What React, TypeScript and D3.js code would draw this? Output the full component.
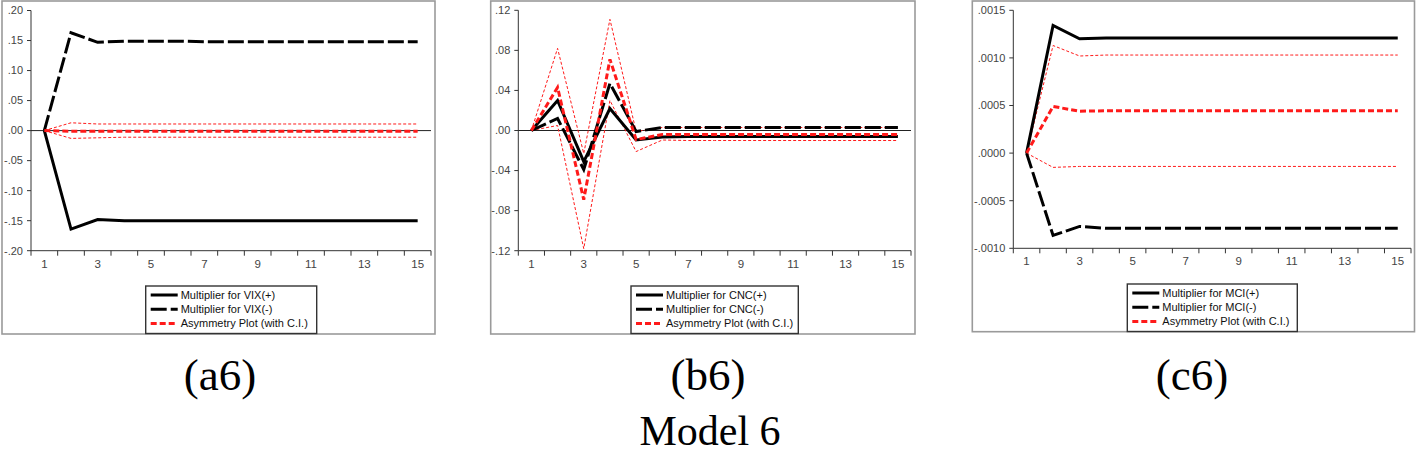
import React from 'react';
import * as d3 from 'd3';

// ---------- data ----------
const periods = [1, 2, 3, 4, 5, 6, 7, 8, 9, 10, 11, 12, 13, 14, 15];
const xTickLabels = [1, 3, 5, 7, 9, 11, 13, 15];

// Panel (a6): VIX
const vixPlus = [0, -0.164, -0.148, -0.150, -0.150, -0.150, -0.150, -0.150, -0.150, -0.150, -0.150, -0.150, -0.150, -0.150, -0.150];
const vixMinus = [0, 0.163, 0.147, 0.149, 0.149, 0.149, 0.148, 0.148, 0.148, 0.148, 0.148, 0.148, 0.148, 0.148, 0.148];
const vixAsym = [0, -0.001, -0.001, -0.001, -0.001, -0.001, -0.001, -0.001, -0.001, -0.001, -0.001, -0.001, -0.001, -0.001, -0.001];
const vixUpper = [0, 0.013, 0.011, 0.011, 0.011, 0.011, 0.011, 0.011, 0.011, 0.011, 0.011, 0.011, 0.011, 0.011, 0.011];
const vixLower = [0, -0.013, -0.012, -0.011, -0.011, -0.011, -0.011, -0.011, -0.011, -0.011, -0.011, -0.011, -0.011, -0.011, -0.011];
const vixYTicks = [0.2, 0.15, 0.1, 0.05, 0, -0.05, -0.1, -0.15, -0.2];
const vixYLabels = ['.20', '.15', '.10', '.05', '.00', '-.05', '-.10', '-.15', '-.20'];
const vixLegend = ['Multiplier for VIX(+)', 'Multiplier for VIX(-)', 'Asymmetry Plot (with C.I.)'];

// Panel (b6): CNC
const cncPlus = [0, 0.030, -0.031, 0.022, -0.0095, -0.0065, -0.006, -0.006, -0.006, -0.006, -0.006, -0.006, -0.006, -0.006, -0.006];
const cncMinus = [0, 0.012, -0.039, 0.047, -0.001, 0.003, 0.003, 0.003, 0.003, 0.003, 0.003, 0.003, 0.003, 0.003, 0.003];
const cncAsym = [0, 0.043, -0.069, 0.071, -0.009, -0.004, -0.004, -0.004, -0.004, -0.004, -0.004, -0.004, -0.004, -0.004, -0.004];
const cncUpper = [0, 0.082, -0.023, 0.111, -0.001, 0.003, 0.003, 0.003, 0.003, 0.003, 0.003, 0.003, 0.003, 0.003, 0.003];
const cncLower = [0, 0.005, -0.118, 0.030, -0.021, -0.0095, -0.010, -0.010, -0.010, -0.010, -0.010, -0.010, -0.010, -0.010, -0.010];
const cncYTicks = [0.12, 0.08, 0.04, 0, -0.04, -0.08, -0.12];
const cncYLabels = ['.12', '.08', '.04', '.00', '-.04', '-.08', '-.12'];
const cncLegend = ['Multiplier for CNC(+)', 'Multiplier for CNC(-)', 'Asymmetry Plot (with C.I.)'];

// Panel (c6): MCI
const mciPlus = [0, 0.00134, 0.00120, 0.00121, 0.00121, 0.00121, 0.00121, 0.00121, 0.00121, 0.00121, 0.00121, 0.00121, 0.00121, 0.00121, 0.00121];
const mciMinus = [0, -0.000865, -0.00077, -0.00079, -0.00079, -0.00079, -0.00079, -0.00079, -0.00079, -0.00079, -0.00079, -0.00079, -0.00079, -0.00079, -0.00079];
const mciAsym = [0, 0.00049, 0.00044, 0.000445, 0.000445, 0.000445, 0.000445, 0.000445, 0.000445, 0.000445, 0.000445, 0.000445, 0.000445, 0.000445, 0.000445];
const mciUpper = [0, 0.00113, 0.00102, 0.00103, 0.00103, 0.00103, 0.00103, 0.00103, 0.00103, 0.00103, 0.00103, 0.00103, 0.00103, 0.00103, 0.00103];
const mciLower = [0, -0.00015, -0.00014, -0.00014, -0.00014, -0.00014, -0.00014, -0.00014, -0.00014, -0.00014, -0.00014, -0.00014, -0.00014, -0.00014, -0.00014];
const mciYTicks = [0.0015, 0.001, 0.0005, 0, -0.0005, -0.001];
const mciYLabels = ['.0015', '.0010', '.0005', '.0000', '-.0005', '-.0010'];
const mciLegend = ['Multiplier for MCI(+)', 'Multiplier for MCI(-)', 'Asymmetry Plot (with C.I.)'];

const captions = ['(a6)', '(b6)', '(c6)'];
const title = 'Model 6';

// ---------- layout ----------
type PanelCfg = {
  frame: [number, number, number, number];
  left: number; right: number; top: number; bottom: number;
  domain: [number, number];
  yTicks: number[]; yLabels: string[];
  plus: number[]; minus: number[]; asym: number[]; upper: number[]; lower: number[];
  legend: string[];
  legendBox: [number, number, number, number];
  zeroLine: boolean;
  caption: string; captionX: number;
};

const panels: PanelCfg[] = [
  {
    frame: [2, 1, 433, 333], left: 31, right: 431, top: 10.5, bottom: 250.7, domain: [-0.2, 0.2],
    yTicks: vixYTicks, yLabels: vixYLabels,
    plus: vixPlus, minus: vixMinus, asym: vixAsym, upper: vixUpper, lower: vixLower,
    legend: vixLegend, legendBox: [145.7, 286, 171, 47.5], zeroLine: true,
    caption: captions[0], captionX: 220,
  },
  {
    frame: [490.7, 1, 424.3, 333], left: 518.3, right: 911, top: 10.3, bottom: 250.7, domain: [-0.12, 0.12],
    yTicks: cncYTicks, yLabels: cncYLabels,
    plus: cncPlus, minus: cncMinus, asym: cncAsym, upper: cncUpper, lower: cncLower,
    legend: cncLegend, legendBox: [631, 286, 167.3, 47.5], zeroLine: true,
    caption: captions[1], captionX: 708,
  },
  {
    frame: [972.3, 1, 442.2, 330.7], left: 1013.3, right: 1411, top: 10.3, bottom: 248.3, domain: [-0.001, 0.0015],
    yTicks: mciYTicks, yLabels: mciYLabels,
    plus: mciPlus, minus: mciMinus, asym: mciAsym, upper: mciUpper, lower: mciLower,
    legend: mciLegend, legendBox: [1127.3, 284, 170, 47.5], zeroLine: false,
    caption: captions[2], captionX: 1192,
  },
];

const SANS = 'Arial, "Liberation Sans", Helvetica, sans-serif';
const SERIF = '"Times New Roman", "Liberation Serif", Times, serif';
const RED = '#ff1a1a';

function Panel({ p }: { p: PanelCfg }) {
  const x = d3.scaleBand<number>().domain(periods).range([p.left, p.right]).paddingInner(0).paddingOuter(0);
  const y = d3.scaleLinear().domain(p.domain).range([p.bottom, p.top]);
  const bw = x.bandwidth();
  const line = (vals: number[]) =>
    d3.line<number>()
      .x((_, i) => (x(periods[i]) as number) + bw / 2)
      .y((v) => y(v))(vals) as string;
  const edges = d3.range(periods.length + 1).map((i) => p.left + i * bw);
  const [lx, ly, lw, lh] = p.legendBox;
  const rowY = [ly + 9, ly + 23.3, ly + 37.6];
  return (
    <g>
      <rect x={p.frame[0]} y={p.frame[1]} width={p.frame[2]} height={p.frame[3]} fill="none" stroke="#9a9a9a" strokeWidth={1.6} />
      {/* axes */}
      <line x1={p.left} x2={p.left} y1={p.top} y2={p.bottom} stroke="#333" strokeWidth={1} />
      <line x1={p.left} x2={p.right} y1={p.bottom} y2={p.bottom} stroke="#333" strokeWidth={1} />
      {p.yTicks.map((t, i) => (
        <g key={'yt' + i}>
          <line x1={p.left - 4} x2={p.left} y1={y(t)} y2={y(t)} stroke="#333" strokeWidth={1} />
          <text x={p.left - 8} y={y(t)} dy="0.35em" textAnchor="end" fontFamily={SANS} fontSize={11} fill="#444">{p.yLabels[i]}</text>
        </g>
      ))}
      {edges.map((e, i) => (
        <line key={'xt' + i} x1={e} x2={e} y1={p.bottom} y2={p.bottom + 5} stroke="#333" strokeWidth={1} />
      ))}
      {xTickLabels.map((t) => (
        <text key={'xl' + t} x={(x(t) as number) + bw / 2} y={p.bottom + 17} textAnchor="middle" fontFamily={SANS} fontSize={11.5} fill="#444">{t}</text>
      ))}
      {p.zeroLine && <line x1={p.left} x2={p.right} y1={y(0)} y2={y(0)} stroke="#222" strokeWidth={1} />}
      {/* series */}
      <path d={line(p.upper)} fill="none" stroke={RED} strokeWidth={1} strokeDasharray="3,2" />
      <path d={line(p.lower)} fill="none" stroke={RED} strokeWidth={1} strokeDasharray="3,2" />
      <path d={line(p.plus)} fill="none" stroke="#000" strokeWidth={3} />
      <path d={line(p.minus)} fill="none" stroke="#000" strokeWidth={3} strokeDasharray="16,4" />
      <path d={line(p.asym)} fill="none" stroke={RED} strokeWidth={3} strokeDasharray="6,3" />
      {/* legend */}
      <rect x={lx} y={ly} width={lw} height={lh} fill="#fff" stroke="#333" strokeWidth={1.4} />
      <line x1={lx + 5} x2={lx + 32} y1={rowY[0]} y2={rowY[0]} stroke="#000" strokeWidth={3} />
      <line x1={lx + 5} x2={lx + 32} y1={rowY[1]} y2={rowY[1]} stroke="#000" strokeWidth={3} strokeDasharray="16,4" />
      <line x1={lx + 5} x2={lx + 32} y1={rowY[2]} y2={rowY[2]} stroke={RED} strokeWidth={3} strokeDasharray="6,3" />
      {p.legend.map((s, i) => (
        <text key={'lg' + i} x={lx + 35} y={rowY[i]} dy="0.35em" fontFamily={SANS} fontSize={11} fill="#111">{s}</text>
      ))}
      <text x={p.captionX} y={390} textAnchor="middle" fontFamily={SERIF} fontSize={45} fill="#000">{p.caption}</text>
    </g>
  );
}

export default function App() {
  return (
    <svg width={1416} height={455} style={{ position: 'absolute', left: 0, top: 0, background: '#fff' }}>
      <rect x={0} y={0} width={1416} height={455} fill="#fff" />
      {panels.map((p, i) => <Panel key={i} p={p} />)}
      <text x={710} y={445} textAnchor="middle" fontFamily={SERIF} fontSize={42} fill="#000">{title}</text>
    </svg>
  );
}
